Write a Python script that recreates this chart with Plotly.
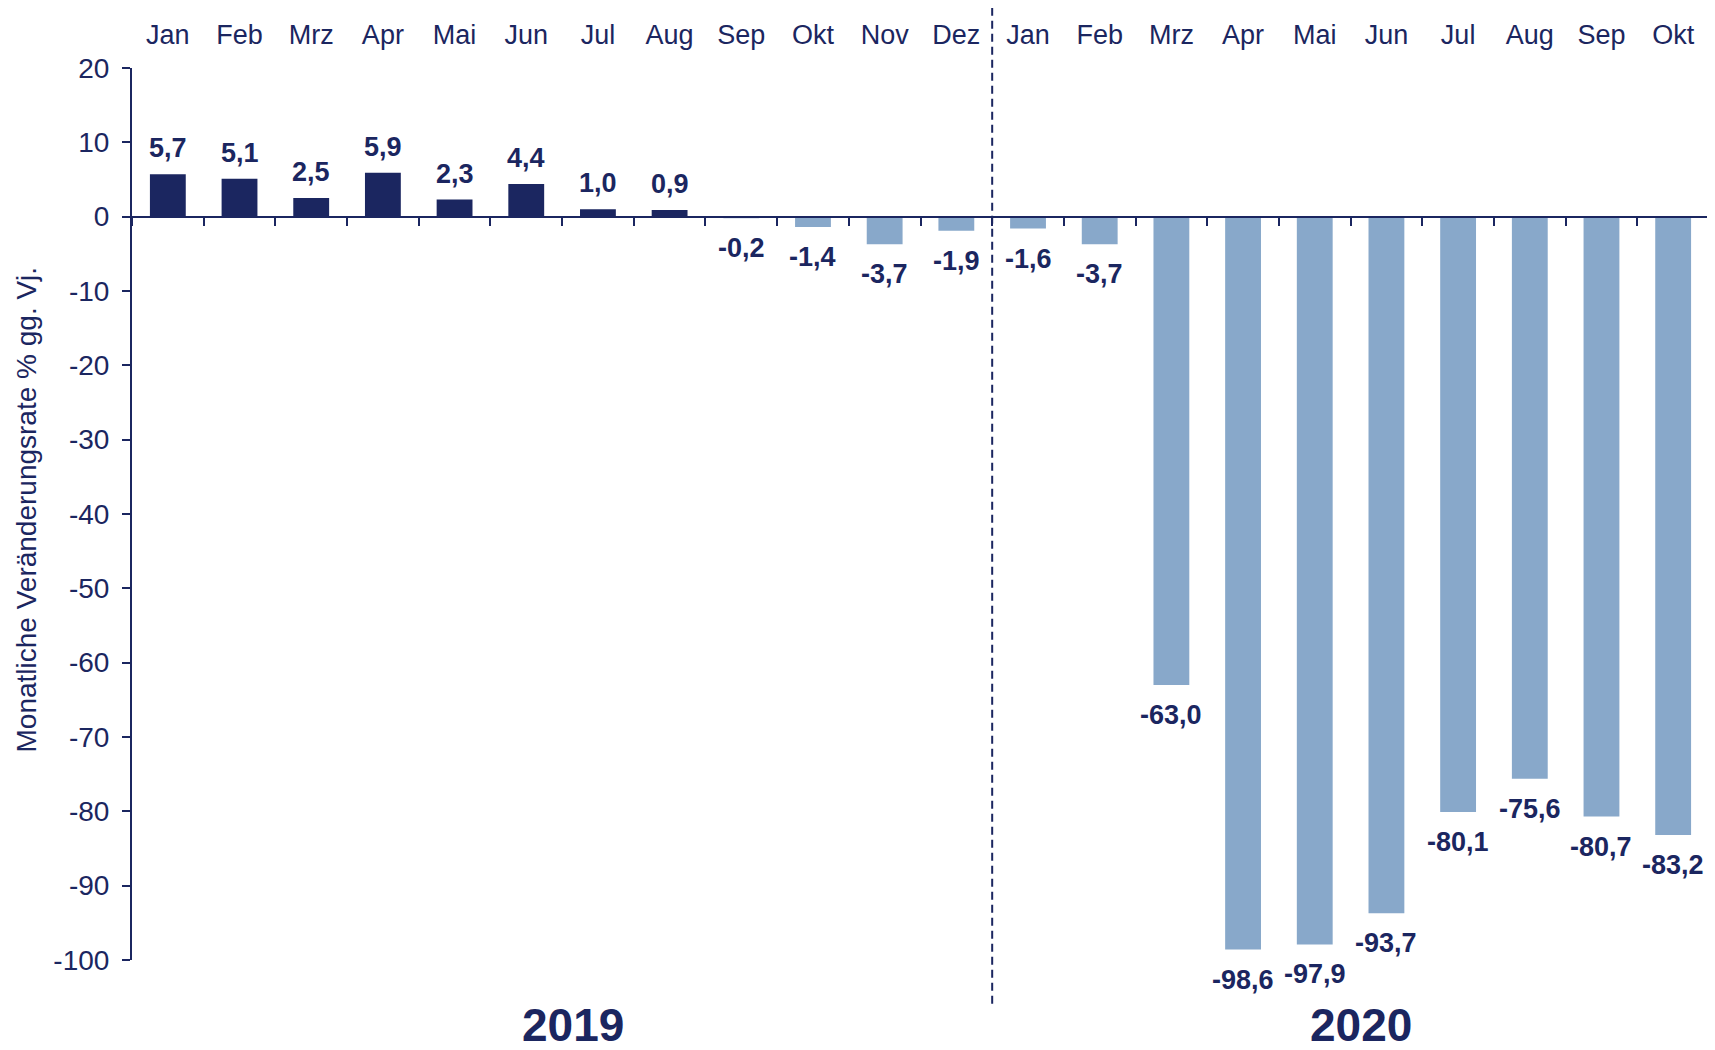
import plotly.graph_objects as go

months = ["Jan", "Feb", "Mrz", "Apr", "Mai", "Jun", "Jul", "Aug", "Sep", "Okt", "Nov", "Dez",
          "Jan", "Feb", "Mrz", "Apr", "Mai", "Jun", "Jul", "Aug", "Sep", "Okt"]
values = [5.7, 5.1, 2.5, 5.9, 2.3, 4.4, 1.0, 0.9, -0.2, -1.4, -3.7, -1.9,
          -1.6, -3.7, -63.0, -98.6, -97.9, -93.7, -80.1, -75.6, -80.7, -83.2]
years = ["2019", "2020"]
year_centers = [5.65, 16.65]
y_ticks = list(range(-100, 21, 10))
y_tick_labels = [str(t) for t in y_ticks]
y_title = "Monatliche Veränderungsrate % gg. Vj."

NAVY = "#1B2660"
LIGHT = "#88A8CA"
FONT = "Liberation Sans, Arial, sans-serif"

x_pos = list(range(len(months)))
colors = [NAVY if v >= 0 else LIGHT for v in values]

fig = go.Figure()
fig.add_trace(go.Bar(x=x_pos, y=values, marker=dict(color=colors, line=dict(width=0)),
                     width=0.5, hoverinfo="skip", showlegend=False))
# invisible helper to host the top axis with month labels
fig.add_trace(go.Scatter(x=x_pos, y=values, xaxis="x2", mode="markers",
                         marker=dict(opacity=0), hoverinfo="skip", showlegend=False))

y_min, y_max = min(y_ticks), max(y_ticks)
zero_pos = (0 - y_min) / (y_max - y_min)

annotations = []
for x, v in zip(x_pos, values):
    txt = f"{v:.1f}".replace(".", ",")
    annotations.append(dict(x=x, y=v, xref="x", yref="y", text=txt, showarrow=False,
                            yanchor="bottom" if v >= 0 else "top",
                            yshift=9 if v >= 0 else -13,
                            font=dict(family=FONT, size=27, color=NAVY, weight="bold")))
for yr, xc in zip(years, year_centers):
    annotations.append(dict(x=xc, y=-0.073, xref="x", yref="paper", text=yr, showarrow=False,
                            yanchor="middle", xanchor="center",
                            font=dict(family=FONT, size=46, color=NAVY, weight="bold")))
annotations.append(dict(x=-0.0666, y=0.505, xref="paper", yref="paper", text=y_title,
                        showarrow=False, textangle=-90, xanchor="center", yanchor="middle",
                        font=dict(family=FONT, size=28, color=NAVY)))

fig.update_layout(
    width=1701, height=1034,
    margin=dict(l=124, r=0, t=60, b=82),
    plot_bgcolor="white", paper_bgcolor="white",
    font=dict(family=FONT, color=NAVY, size=27),
    xaxis=dict(range=[-0.5, len(months) - 0.5], anchor="free", position=zero_pos,
               tickvals=[i - 0.5 for i in range(len(months) + 1)],
               ticks="outside", ticklen=8, tickwidth=2, tickcolor=NAVY,
               showline=True, linecolor=NAVY, linewidth=2,
               showticklabels=False, showgrid=False, zeroline=False),
    xaxis2=dict(range=[-0.5, len(months) - 0.5], overlaying="x", side="top", anchor="y",
                tickvals=x_pos, ticktext=months, ticks="", showline=False,
                showgrid=False, zeroline=False, ticklabelstandoff=18,
                tickfont=dict(family=FONT, size=27, color=NAVY)),
    yaxis=dict(range=[y_min, y_max], tickvals=y_ticks, ticktext=y_tick_labels,
               ticks="outside", ticklen=8,
               tickwidth=2, tickcolor=NAVY, showline=True, linecolor=NAVY, linewidth=2,
               showgrid=False, zeroline=False, ticklabelstandoff=7,
               tickfont=dict(family=FONT, size=28, color=NAVY)),
    annotations=annotations,
    shapes=[dict(type="line", xref="x", yref="paper", x0=11.5, x1=11.5, y0=-0.049, y1=1.069,
                 line=dict(color=NAVY, width=2, dash="8px,5px"))],
)

fig.write_html("out.html")
